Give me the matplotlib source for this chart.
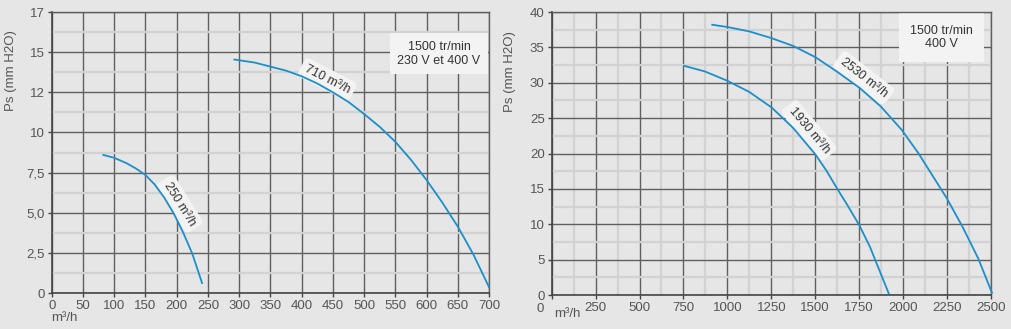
import matplotlib
matplotlib.use("Agg")
import matplotlib.pyplot as plt
import numpy as np

plt.rcParams['font.family'] = ['Liberation Sans', 'DejaVu Sans']

# ---- data ----
left_x_250 = [82.6, 100, 120, 135, 150, 165, 180, 195, 210, 225, 240.7]
left_y_250 = [8.60, 8.42, 8.08, 7.75, 7.35, 6.75, 5.95, 4.98, 3.8, 2.45, 0.62]
left_x_710 = [292.4, 325, 350, 375, 400, 425, 450, 475, 500, 525, 550, 575, 600, 625, 650, 675, 700]
left_y_710 = [14.54, 14.35, 14.1, 13.85, 13.5, 13.05, 12.5, 11.9, 11.15, 10.35, 9.42, 8.3, 7.04, 5.65, 4.14, 2.4, 0.37]

right_x_1930 = [753, 872, 1000, 1125, 1252, 1375, 1500, 1563, 1626, 1688, 1751, 1811, 1918]
right_y_1930 = [32.4, 31.6, 30.28, 28.7, 26.5, 23.6, 19.9, 17.6, 15.0, 12.5, 9.86, 6.83, 0.24]
right_x_2530 = [914, 1000, 1125, 1252, 1375, 1502, 1622, 1754, 1875, 1992, 2087, 2248, 2337, 2428, 2506]
right_y_2530 = [38.2, 37.88, 37.26, 36.3, 35.2, 33.6, 31.6, 29.25, 26.6, 23.35, 20.05, 13.7, 9.7, 5.15, 0.3]

left_xticks = list(range(0, 701, 50))
left_yticks = [0, 2.5, 5, 7.5, 10, 12.5, 15, 17.5]
left_ylabels = ['0', '2,5', '5,0', '7,5', '10', '12', '15', '17']
right_xticks = list(range(0, 2501, 250))
right_yticks = list(range(0, 41, 5))

BG = '#e6e6e6'
MAJ = '#5f5f5f'
MIN = '#d2d2d2'
CURVE = '#1c8fca'
TICKC = '#555555'
TXT = '#333333'
FS = 9.5

fig = plt.figure(figsize=(10.12, 3.29), dpi=100)
fig.patch.set_facecolor(BG)

axL = fig.add_axes([0.0511, 0.1094, 0.4321, 0.8541])
axR = fig.add_axes([0.5451, 0.1033, 0.4341, 0.8602])

lab_box = dict(boxstyle='round,pad=0.35', fc='#f3f3f3', ec='none')

def style(ax, xlim, ylim, xticks, yticks, xminor, yminor):
    ax.set_facecolor(BG)
    ax.set_xlim(*xlim)
    ax.set_ylim(*ylim)
    ax.set_xticks(xticks)
    ax.set_yticks(yticks)
    if xminor is not None:
        ax.set_xticks(xminor, minor=True)
    ax.set_yticks(yminor, minor=True)
    ax.grid(which='major', color=MAJ, lw=1.0, zorder=1)
    ax.grid(which='minor', color=MIN, lw=1.6, zorder=0.5)
    ax.set_axisbelow(True)
    for s in ['top', 'right']:
        ax.spines[s].set_color(MAJ)
        ax.spines[s].set_linewidth(1.0)
    for s in ['left', 'bottom']:
        ax.spines[s].set_color('#444444')
        ax.spines[s].set_linewidth(1.2)
    ax.tick_params(which='major', direction='out', length=3, width=1, color='#444444',
                   labelcolor=TICKC, labelsize=FS, pad=2)
    ax.tick_params(which='minor', length=0)
    ax.tick_params(axis='x', top=False)
    ax.tick_params(axis='y', right=False)

# left
style(axL, (0, 700), (0, 17.5), left_xticks, left_yticks, None,
      [1.25, 3.75, 6.25, 8.75, 11.25, 13.75, 16.25])
axL.set_yticklabels(left_ylabels)
axL.plot(left_x_250, left_y_250, color=CURVE, lw=1.3, zorder=3, clip_on=False)
axL.plot(left_x_710, left_y_710, color=CURVE, lw=1.3, zorder=3, clip_on=False)
axL.text(205, 5.55, '250 m³/h', rotation=-58, ha='center', va='center',
         fontsize=9, color=TXT, bbox=lab_box, zorder=2)
axL.text(441, 13.3, '710 m³/h', rotation=-27, ha='center', va='center',
         fontsize=9, color=TXT, bbox=lab_box, zorder=2)
axL.text(620, 14.9, '1500 tr/min\n230 V et 400 V', ha='center', va='center',
         fontsize=9, color=TXT, linespacing=1.2,
         bbox=dict(boxstyle='square,pad=0.6', fc='#f3f3f3', ec='none'), zorder=2)
axL.set_ylabel('Ps (mm H2O)', color=TICKC, fontsize=FS)
axL.yaxis.set_label_coords(-0.080, 0.79)
fig.text(0.064, 0.033, 'm³/h', color=TICKC, fontsize=FS, ha='center', va='center')

# right
style(axR, (0, 2500), (0, 40), right_xticks, right_yticks,
      [125 + 250 * i for i in range(10)], [2.5 + 5 * i for i in range(8)])
rl = [str(t) for t in right_xticks]
rl[0] = ''
axR.set_xticklabels(rl)
axR.plot(right_x_1930, right_y_1930, color=CURVE, lw=1.3, zorder=3, clip_on=False)
axR.plot(right_x_2530, right_y_2530, color=CURVE, lw=1.3, zorder=3, clip_on=False)
axR.text(1465, 23.3, '1930 m³/h', rotation=-50, ha='center', va='center',
         fontsize=9, color=TXT, bbox=lab_box, zorder=2)
axR.text(1776, 30.7, '2530 m³/h', rotation=-38, ha='center', va='center',
         fontsize=9, color=TXT, bbox=lab_box, zorder=2)
axR.text(2220, 36.4, '1500 tr/min\n400 V', ha='center', va='center',
         fontsize=9, color=TXT, linespacing=1.2,
         bbox=dict(boxstyle='square,pad=0.9', fc='#f3f3f3', ec='none'), zorder=2)
axR.set_ylabel('Ps (mm H2O)', color=TICKC, fontsize=FS)
axR.yaxis.set_label_coords(-0.082, 0.79)
fig.text(0.5336, 0.060, '0', color=TICKC, fontsize=FS, ha='center', va='center')
fig.text(0.561, 0.045, 'm³/h', color=TICKC, fontsize=FS, ha='center', va='center')

fig.savefig('out.png', dpi=100, facecolor=BG)
